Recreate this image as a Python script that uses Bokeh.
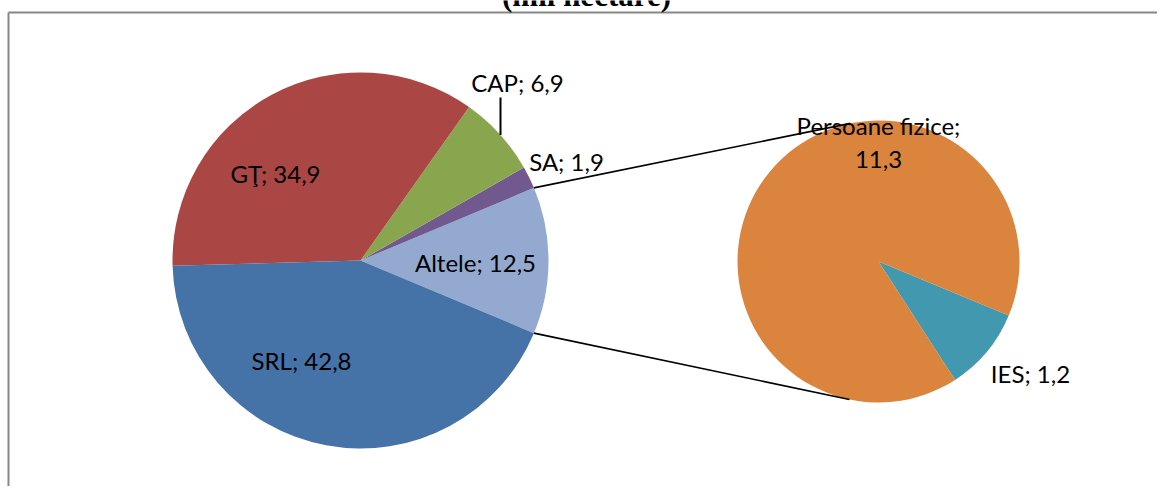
import math
from bokeh.plotting import figure
from bokeh.models import ColumnDataSource, Range1d
from bokeh.core.properties import value
from bokeh.embed import file_html
from bokeh.resources import INLINE

# ---------------- data ----------------
title_text = "(mii hectare)"
main_categories = ["Altele", "SA", "CAP", "GŢ", "SRL"]   # anticlockwise, starting with the split slice
main_values = [12.5, 1.9, 6.9, 34.9, 42.8]
sub_categories = ["IES", "Persoane fizice"]
sub_values = [1.2, 11.3]

# ---------------- style / layout ----------------
main_colors = ["#93A9CF", "#71588F", "#89A54E", "#AA4643", "#4572A7"]
sub_colors = ["#4198AF", "#DB843D"]
W, H = 1157, 486
MAIN_C = (360, H - 260)      # figure coords, y up
MAIN_R = 188
SUB_C = (878, H - 261)
SUB_R = 141
SUB_START = math.radians(-57.1)
FONT = "Lato"
FSIZE = "24px"
main_label_off = {"Altele": (115, -2), "SA": (206, 99), "CAP": (157, 178),
                  "GŢ": (-85, 87), "SRL": (-59, -100)}
sub_label_off = {"IES": (152, -112), "Persoane fizice": (0, 119.5)}


def fmt(v):
    return f"{v:.1f}".replace(".", ",")


p = figure(width=W, height=H, output_backend="svg", toolbar_location=None,
           x_range=Range1d(0, W), y_range=Range1d(0, H), min_border=0,
           background_fill_color="white", border_fill_color="white")
p.axis.visible = False
p.grid.visible = False
p.outline_line_color = None

# frame
p.line([8, 8], [-10, H - 12], line_color="#878787", line_width=2)
p.line([8, W + 10], [H - 12, H - 12], line_color="#878787", line_width=2)

# main pie
total = sum(main_values)
split_half = math.pi * main_values[0] / total
starts, ends = [], []
a = -split_half
for v in main_values:
    starts.append(a)
    a += 2 * math.pi * v / total
    ends.append(a)
msrc = ColumnDataSource(dict(x=[MAIN_C[0]] * len(main_values), y=[MAIN_C[1]] * len(main_values),
                             s=starts, e=ends, c=main_colors))
p.wedge(x="x", y="y", radius=MAIN_R, start_angle="s", end_angle="e", fill_color="c",
        line_color=None, source=msrc)

# sub pie
sub_total = sum(sub_values)
sstarts, sends = [], []
a = SUB_START
for v in sub_values:
    sstarts.append(a)
    a += 2 * math.pi * v / sub_total
    sends.append(a)
ssrc = ColumnDataSource(dict(x=[SUB_C[0]] * 2, y=[SUB_C[1]] * 2, s=sstarts, e=sends, c=sub_colors))
p.wedge(x="x", y="y", radius=SUB_R, start_angle="s", end_angle="e", fill_color="c",
        line_color=None, source=ssrc)

# connector lines (tangents from split slice edges to second pie)
for ang, sign in ((split_half, -1), (-split_half, 1)):
    px = MAIN_C[0] + MAIN_R * math.cos(ang)
    py = MAIN_C[1] + MAIN_R * math.sin(ang)
    vx, vy = px - SUB_C[0], py - SUB_C[1]
    d = math.hypot(vx, vy)
    phi = math.atan2(vy, vx)
    t = phi + sign * math.acos(SUB_R / d)
    tx = SUB_C[0] + SUB_R * math.cos(t)
    ty = SUB_C[1] + SUB_R * math.sin(t)
    p.line([px, tx], [py, ty], line_color="black", line_width=1.6)

# CAP leader line
cap_dx, cap_dy = main_label_off["CAP"]
lx = MAIN_C[0] + cap_dx - 17
edge_y = MAIN_C[1] + math.sqrt(MAIN_R ** 2 - (lx - MAIN_C[0]) ** 2)
p.line([lx, lx], [edge_y, MAIN_C[1] + cap_dy - 15], line_color="black", line_width=2)

# labels
lx_, ly_, lt_ = [], [], []
for cat, v in zip(main_categories, main_values):
    dx, dy = main_label_off[cat]
    lx_.append(MAIN_C[0] + dx)
    ly_.append(MAIN_C[1] + dy)
    lt_.append(f"{cat}; {fmt(v)}")
for cat, v in zip(sub_categories, sub_values):
    dx, dy = sub_label_off[cat]
    lx_.append(SUB_C[0] + dx)
    ly_.append(SUB_C[1] + dy)
    if cat == "Persoane fizice":
        lt_.append(f"{cat};\n{fmt(v)}")
    else:
        lt_.append(f"{cat}; {fmt(v)}")
lsrc = ColumnDataSource(dict(x=lx_, y=ly_, t=lt_))
p.text(x="x", y="y", text="t", source=lsrc, text_font=value(FONT), text_font_size=FSIZE,
       text_align="center", text_baseline="middle", text_color="black", text_line_height=1.14)

# title (mostly above the visible area, as in the reference)
p.text(x=[586], y=[H + 5], text=[title_text], text_font=value("Liberation Serif"),
       text_font_style="bold", text_font_size="31px", text_align="center",
       text_baseline="alphabetic", text_color="black")

open("out.html", "w").write(file_html(p, INLINE))
